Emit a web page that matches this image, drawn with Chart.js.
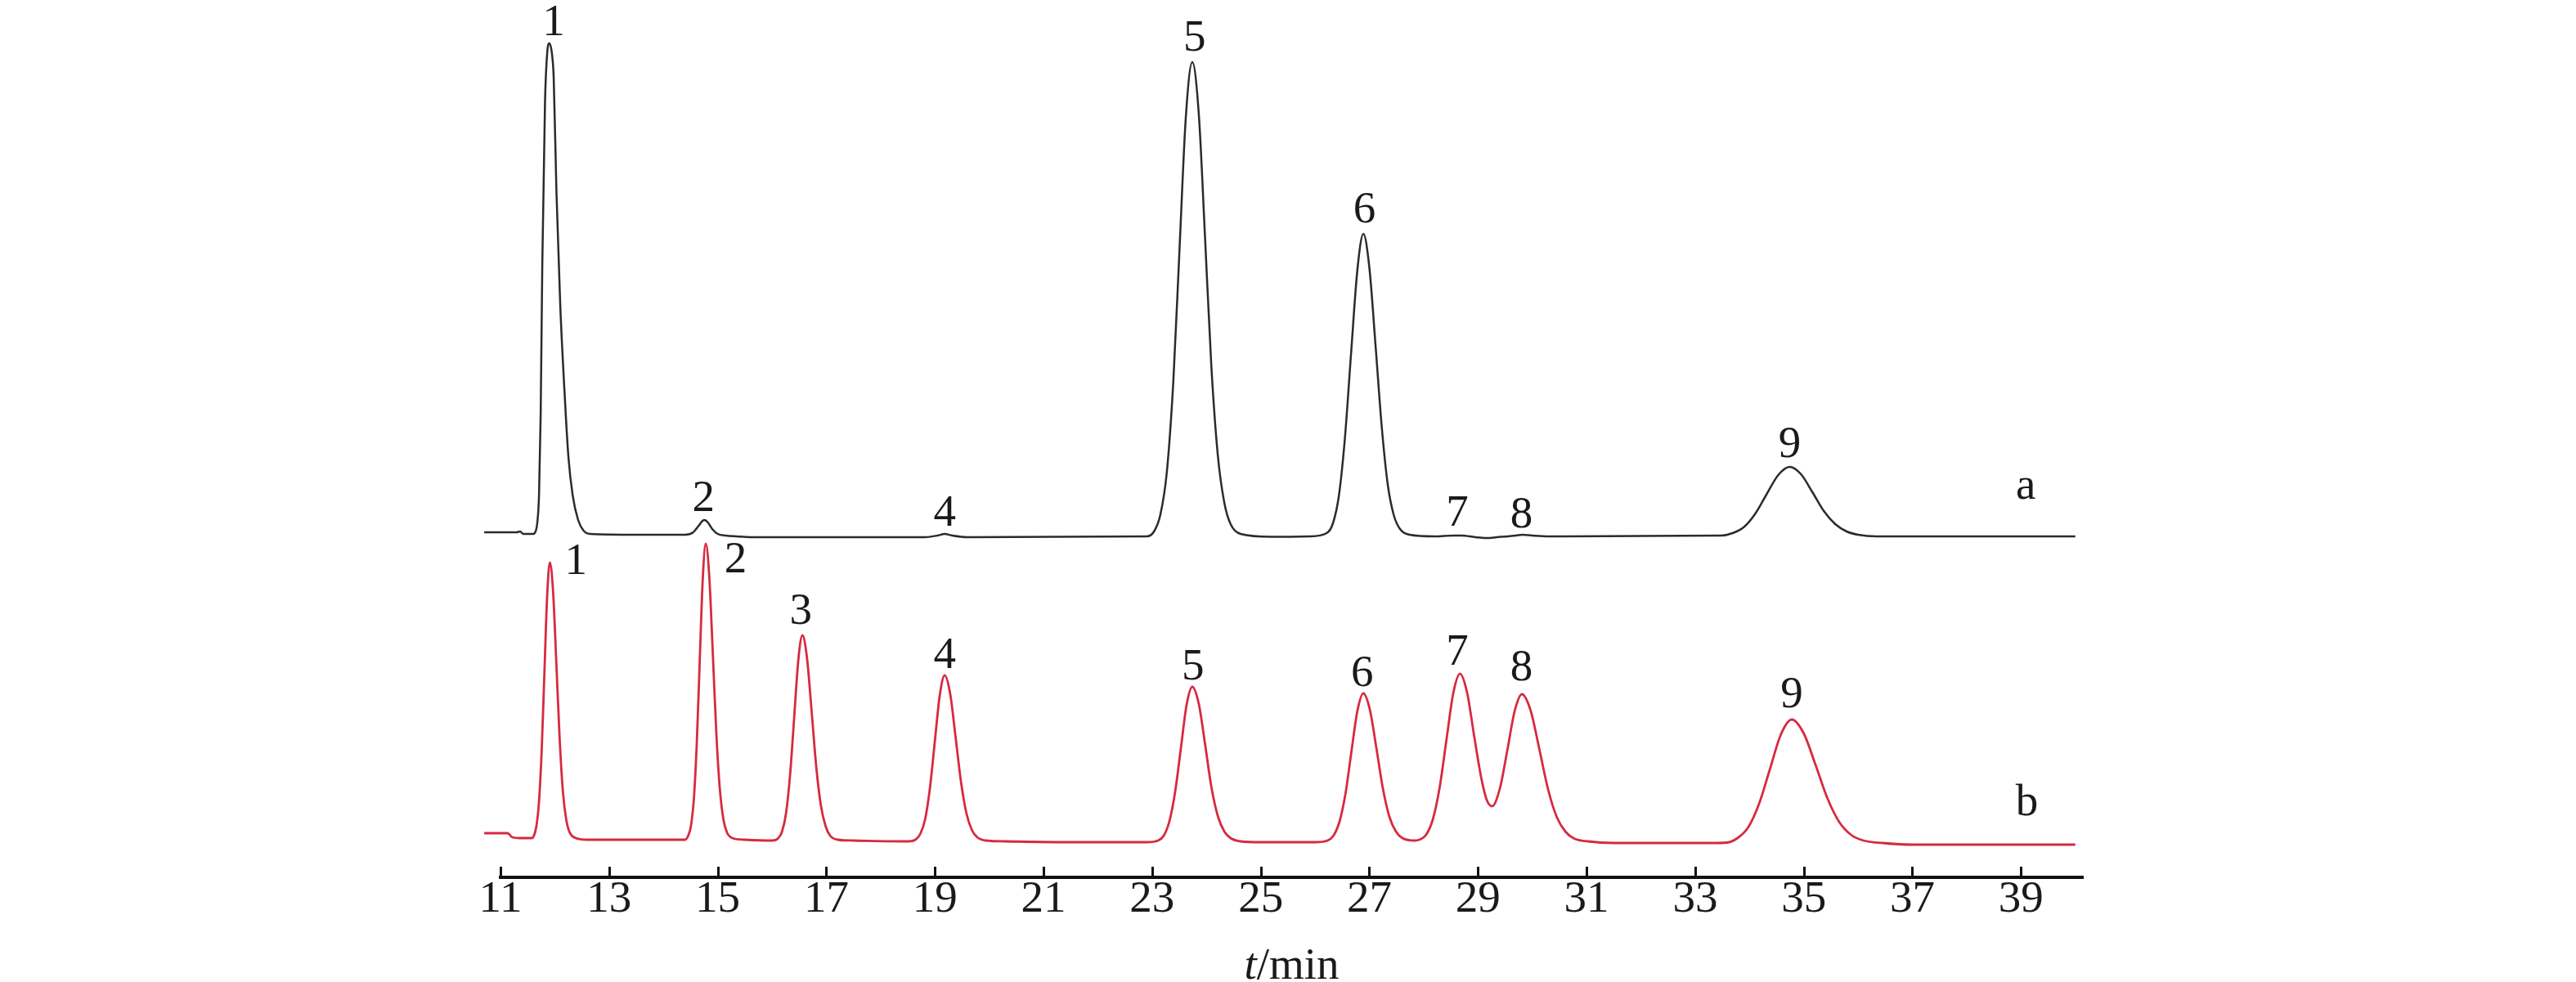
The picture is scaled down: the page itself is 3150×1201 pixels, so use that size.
<!DOCTYPE html>
<html>
<head>
<meta charset="utf-8">
<script src="https://cdn.jsdelivr.net/npm/chart.js@4.4.1/dist/chart.umd.min.js"></script>
<style>
html, body { margin:0; padding:0; background:#fff; }
canvas { display:block; }
</style>
</head>
<body>
<canvas id="chrom" width="3150" height="1201"></canvas>
<script>
// retention time (min) and detector signal (arbitrary units)
var timeA = [10.70,11.30,11.36,11.42,11.60,11.64,11.68,11.71,11.74,11.77,11.82,11.86,11.90,11.95,11.98,12.03,12.10,12.18,12.25,12.33,12.43,12.53,12.65,13.50,
	14.40,14.55,14.65,14.72,14.76,14.82,14.90,15.00,15.15,15.35,15.60,18.80,19.05,19.18,19.32,19.60,22.90,
	23.035,23.15,23.27,23.39,23.505,23.62,23.74,23.86,23.975,24.09,24.21,24.33,24.445,24.63,25.20,25.90,
	26.215,26.33,26.44,26.55,26.665,26.78,26.89,27.00,27.115,27.23,27.34,27.45,27.565,27.745,
	28.20,28.55,28.70,28.95,29.15,29.35,29.70,29.82,30.00,30.30,
	33.48,33.69,33.90,34.11,34.32,34.53,34.74,34.95,35.16,35.37,35.58,35.79,36.00,36.34,40.00];
var signalA = [42.2,42.2,42.3,42.0,42.0,42.2,43.5,46.8,56.5,75.0,94.8,100.8,102.0,100.6,97.8,84.0,70.1,59.3,51.5,46.7,43.7,42.4,42.0,41.9,
	41.9,42.2,43.0,43.6,43.7,43.4,42.6,42.0,41.8,41.7,41.6,41.6,41.8,42.0,41.8,41.6,41.7,
	42.3,44.3,49.5,60.6,76.9,92.9,99.7,93.3,78.2,62.6,51.6,45.8,43.2,42.0,41.65,41.7,
	42.1,43.3,46.7,53.7,64.2,74.3,78.7,74.6,65.0,55.0,48.0,44.3,42.6,41.9,
	41.7,41.8,41.8,41.6,41.5,41.6,41.8,41.9,41.8,41.7,
	41.8,42.1,42.85,44.5,46.9,49.2,50.2,49.3,47.1,44.8,43.2,42.3,41.9,41.7,41.7];

var timeB = [10.70,11.13,11.22,11.35,11.58,
	11.61,11.66,11.71,11.76,11.81,11.86,11.91,11.97,12.03,12.09,12.15,12.21,12.27,12.37,12.60,14.40,
	14.45,14.505,14.56,14.615,14.67,14.725,14.78,14.845,14.91,14.975,15.04,15.105,15.17,15.27,15.50,16.00,
	16.11,16.185,16.26,16.335,16.41,16.485,16.56,16.645,16.73,16.815,16.90,16.985,17.07,17.21,17.50,18.50,
	18.64,18.73,18.82,18.91,19.00,19.09,19.18,19.28,19.38,19.48,19.58,19.68,19.78,19.94,20.30,21.50,22.90,
	23.11,23.215,23.32,23.425,23.53,23.635,23.74,23.86,23.975,24.09,24.21,24.33,24.445,24.63,25.00,26.00,
	26.23,26.34,26.45,26.56,26.67,26.78,26.89,27.01,27.13,27.25,27.37,27.49,27.61,27.84,
	27.92,28.045,28.17,28.295,28.42,28.545,28.67,28.80,28.93,29.06,29.16,29.26,
	29.405,29.54,29.675,29.81,29.97,30.13,30.29,30.45,30.61,30.77,31.03,31.50,33.30,
	33.58,33.78,33.98,34.18,34.38,34.58,34.78,35.00,35.22,35.44,35.66,35.88,36.10,36.45,37.00,40.00];
var signalB = [5.4,5.4,4.9,4.8,4.8,
	5.0,6.2,9.3,15.7,25.2,34.5,38.5,34.8,26.0,16.9,10.45,7.1,5.55,4.85,4.6,4.6,
	5.0,6.2,9.5,16.4,26.6,36.5,40.8,36.8,27.4,17.6,10.75,7.1,5.5,4.8,4.6,4.5,
	4.75,5.6,7.9,12.7,19.7,26.6,29.6,26.8,20.3,13.5,8.8,6.3,5.1,4.6,4.5,4.4,
	4.6,5.3,7.1,11.0,16.7,22.3,24.7,22.5,17.2,11.7,7.85,5.8,4.9,4.5,4.4,4.3,4.3,
	4.5,5.1,6.9,10.5,15.8,21.1,23.3,21.2,16.3,11.1,7.5,5.6,4.8,4.4,4.3,4.3,
	4.5,5.1,6.8,10.2,15.35,20.35,22.5,20.5,15.8,10.85,7.4,5.6,4.8,4.5,
	4.6,5.2,7.1,11.0,16.8,22.5,24.9,22.6,17.3,12.2,9.5,8.7,
	10.9,15.5,20.3,22.4,20.4,15.7,10.8,7.4,5.6,4.75,4.4,4.2,4.2,
	4.25,4.8,6.15,9.05,13.3,17.5,19.3,17.6,13.7,9.6,6.7,5.15,4.5,4.2,4.0,4.0];

var tickValues = [11,13,15,17,19,21,23,25,27,29,31,33,35,37,39];

// peak numbers: text, time, signal level of the label baseline
var peakLabelsA = [['1',11.98,103.0],['2',14.74,44.8],['4',19.18,43.0],['5',23.78,101.1],['6',26.91,80.1],
	['7',28.62,43.0],['8',29.80,42.8],['9',34.74,51.4],['a',39.09,46.3]];
var peakLabelsB = [['1',12.39,37.1],['2',15.33,37.3],['3',16.53,31.0],['4',19.18,25.6],['5',23.75,24.2],
	['6',26.87,23.4],['7',28.62,26.0],['8',29.80,24.1],['9',34.78,20.8],['b',39.11,7.6]];

var serif = '"Liberation Serif", "Times New Roman", serif';

function toPoints(xs, ys){
	var pts = [];
	for(var i=0; i<xs.length; i++){
		pts.push({x:xs[i], y:ys[i]});
	}
	return pts;
}

var decorPlugin = {
	id:'decor',
	afterDraw:function(chart){
		var ctx = chart.ctx;
		var xs = chart.scales.x;
		var ys = chart.scales.y;
		ctx.save();
		// inward tick marks
		ctx.strokeStyle = '#111';
		ctx.lineWidth = 3;
		for(var i=0; i<tickValues.length; i++){
			var px = Math.round(xs.getPixelForValue(tickValues[i])) + 0.5;
			ctx.beginPath();
			ctx.moveTo(px, xs.top);
			ctx.lineTo(px, xs.top - 13);
			ctx.stroke();
		}
		// peak numbers
		ctx.fillStyle = '#1a1a1a';
		ctx.font = '55px ' + serif;
		ctx.textAlign = 'center';
		ctx.textBaseline = 'alphabetic';
		var all = peakLabelsA.concat(peakLabelsB);
		for(var j=0; j<all.length; j++){
			ctx.fillText(all[j][0], xs.getPixelForValue(all[j][1]), ys.getPixelForValue(all[j][2]));
		}
		// axis title t/min
		ctx.textAlign = 'left';
		ctx.font = 'italic 55px ' + serif;
		var w1 = ctx.measureText('t').width;
		ctx.font = '55px ' + serif;
		var w2 = ctx.measureText('/min').width;
		var cx = (xs.left + xs.right) / 2;
		var by = xs.bottom - 4;
		ctx.font = 'italic 55px ' + serif;
		ctx.fillText('t', cx - (w1 + w2) / 2, by);
		ctx.font = '55px ' + serif;
		ctx.fillText('/min', cx - (w1 + w2) / 2 + w1, by);
		ctx.restore();
	}
};

var ctx = document.getElementById('chrom');
var chart = new Chart(ctx, {
	type:'line',
	data:{
		datasets:[{
			label:'a',
			data:toPoints(timeA, signalA),
			borderColor:'#2b2b2b',
			borderWidth:2.5,
			pointRadius:0,
			fill:false,
			clip:false,
			cubicInterpolationMode:'monotone'
		},{
			label:'b',
			data:toPoints(timeB, signalB),
			borderColor:'#d62a40',
			borderWidth:2.8,
			pointRadius:0,
			fill:false,
			clip:false,
			cubicInterpolationMode:'monotone'
		}]
	},
	options:{
		responsive:false,
		animation:false,
		devicePixelRatio:1,
		layout:{padding:{left:612, right:603, top:0, bottom:0}},
		plugins:{legend:{display:false}, tooltip:{enabled:false}},
		scales:{
			x:{
				type:'linear',
				min:11,
				max:40.14,
				afterBuildTicks:function(scale){
					scale.ticks = tickValues.map(function(v){ return {value:v}; });
				},
				afterFit:function(scale){ scale.height = 128; },
				grid:{display:true, drawOnChartArea:false, drawTicks:false},
				border:{display:true, color:'#111', width:4},
				ticks:{
					autoSkip:false,
					maxRotation:0,
					padding:-5,
					color:'#1a1a1a',
					font:{family:serif, size:55}
				}
			},
			y:{display:false, min:0, max:107.3}
		}
	},
	plugins:[decorPlugin]
});
</script>
</body>
</html>
